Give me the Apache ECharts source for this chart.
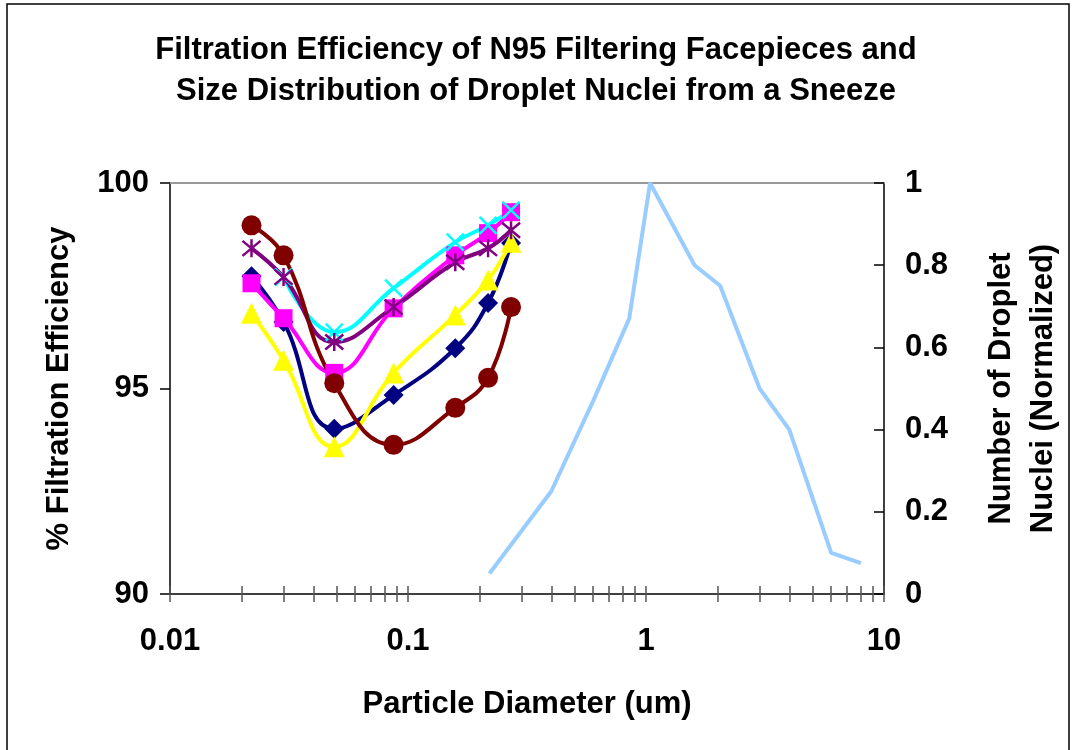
<!DOCTYPE html>
<html>
<head>
<meta charset="utf-8">
<script src="https://cdn.jsdelivr.net/npm/echarts@6/dist/echarts.min.js"></script>
<style>
html,body{margin:0;padding:0;background:#fff;}
#chart{width:1072px;height:750px;}
</style>
</head>
<body>
<div id="chart"></div>
<script>
// Particle diameters (um) for filtration-efficiency measurements
const sizesUm = [0.022, 0.03, 0.049, 0.087, 0.158, 0.217, 0.271];
// % filtration efficiency for six N95 filtering facepieces
const eff1 = [97.73, 96.62, 94.02, 94.84, 95.98, 97.08, 98.54];   // navy diamonds
const eff2 = [97.56, 96.71, 95.38, 96.95, 98.24, 98.78, 99.29];   // magenta squares
const eff3 = [96.83, 95.69, 93.58, 95.38, 96.79, 97.64, 98.56];   // yellow triangles
const eff4 = [null, 97.71, 96.37, 97.44, 98.56, 98.97, 99.34];    // cyan crosses
const eff5 = [98.41, 97.71, 96.13, 96.98, 98.07, 98.41, 98.85];   // purple stars
const eff6 = [98.97, 98.24, 95.13, 93.63, 94.53, 95.26, 96.98];   // maroon circles
// Droplet nuclei size distribution from a sneeze (normalized)
const nucleiSizes = [0.22, 0.4, 0.6, 0.85, 1.04, 1.6, 2.05, 3, 4, 6, 8];
const nucleiCount = [0.05, 0.25, 0.47, 0.67, 1.0, 0.8, 0.75, 0.5, 0.4, 0.1, 0.075];
// Axis ticks / labels
const xTickValues = [0.01,0.02,0.03,0.04,0.05,0.06,0.07,0.08,0.09,0.1,0.2,0.3,0.4,0.5,0.6,0.7,0.8,0.9,1,2,3,4,5,6,7,8,9,10];
const xLabelValues = [0.01, 0.1, 1, 10];

const FONT = '"Liberation Sans", Arial, sans-serif';
const FS = 31;

function pairs(xs, ys) {
  const out = [];
  for (let i = 0; i < xs.length; i++) if (ys[i] != null) out.push([xs[i], ys[i]]);
  return out;
}

const X_PATH = 'path://M0,0L10,10M10,0L0,10';
const STAR_PATH = 'path://M0,0L10,10M10,0L0,10M5,-1L5,11';

function effSeries(name, data, color, symbol, size, strokeSym) {
  return {
    name: name, type: 'line', xAxisIndex: 0, yAxisIndex: 0,
    data: pairs(sizesUm, data), smooth: 0.45,
    symbol: symbol, symbolSize: size,
    lineStyle: {color: color, width: 4},
    itemStyle: strokeSym ? {color: color, borderColor: color, borderWidth: 2.5} : {color: color, borderWidth: 0},
    emphasis: {disabled: true}, animation: false
  };
}

const chart = echarts.init(document.getElementById('chart'));
chart.setOption({
  backgroundColor: '#fff',
  animation: false,
  title: {
    text: 'Filtration Efficiency of N95 Filtering Facepieces and\nSize Distribution of Droplet Nuclei from a Sneeze',
    left: 'center', top: 25,
    textStyle: {fontFamily: FONT, fontSize: FS, fontWeight: 'bold', color: '#000', lineHeight: 41}
  },
  graphic: [{
    type: 'rect', shape: {x: 7, y: 4, width: 1062, height: 780},
    style: {fill: 'none', stroke: '#000', lineWidth: 1.5}, silent: true
  }],
  grid: {left: 170, right: 186, top: 183, bottom: 156, containLabel: false},
  xAxis: [
    {
      type: 'log', logBase: 10, min: 0.01, max: 10, position: 'bottom',
      axisLine: {show: true, lineStyle: {color: '#000', width: 1.5}},
      axisTick: {show: true, inside: false, length: 8, customValues: xTickValues, lineStyle: {color: '#555', width: 1.5}},
      axisLabel: {customValues: xLabelValues, margin: 32, fontFamily: FONT, fontSize: FS, fontWeight: 'bold', color: '#000',
        formatter: function (v) { return String(+v.toPrecision(3)); }},
      splitLine: {show: false},
      name: 'Particle Diameter (um)', nameLocation: 'middle', nameGap: 95,
      nameTextStyle: {fontFamily: FONT, fontSize: FS, fontWeight: 'bold', color: '#000'}
    },
    {
      type: 'log', logBase: 10, min: 0.01, max: 10, position: 'bottom',
      axisLine: {show: false},
      axisTick: {show: true, inside: true, length: 8, customValues: xTickValues, lineStyle: {color: '#555', width: 1.5}},
      axisLabel: {show: false}, splitLine: {show: false}
    },
    {
      type: 'log', logBase: 10, min: 0.01, max: 10, position: 'top',
      axisLine: {show: true, lineStyle: {color: '#999', width: 2}},
      axisTick: {show: false}, axisLabel: {show: false}, splitLine: {show: false}
    }
  ],
  yAxis: [
    {
      type: 'value', min: 90, max: 100, interval: 5, position: 'left',
      axisLine: {show: true, lineStyle: {color: '#000', width: 1.5}},
      axisTick: {show: true, inside: false, length: 10, lineStyle: {color: '#000', width: 1.5}},
      axisLabel: {margin: 21, fontFamily: FONT, fontSize: FS, fontWeight: 'bold', color: '#000'},
      splitLine: {show: false},
      name: '% Filtration Efficiency', nameLocation: 'middle', nameGap: 95, nameRotate: 90,
      nameTextStyle: {fontFamily: FONT, fontSize: FS, fontWeight: 'bold', color: '#000'}
    },
    {
      type: 'value', min: 0, max: 1, interval: 0.2, position: 'right',
      axisLine: {show: true, lineStyle: {color: '#000', width: 1.5}},
      axisTick: {show: true, inside: true, length: 10, lineStyle: {color: '#000', width: 1.5}},
      axisLabel: {margin: 21, fontFamily: FONT, fontSize: FS, fontWeight: 'bold', color: '#000',
        formatter: function (v) { return String(+v.toFixed(1)); }},
      splitLine: {show: false},
      name: 'Number of Droplet\nNuclei (Normalized)', nameLocation: 'middle', nameGap: 96, nameRotate: 90,
      nameTextStyle: {fontFamily: FONT, fontSize: FS, fontWeight: 'bold', color: '#000', lineHeight: 42}
    }
  ],
  series: [
    effSeries('Respirator 1', eff1, '#000080', 'diamond', 20, false),
    effSeries('Respirator 2', eff2, '#FF00FF', 'rect', 18, false),
    effSeries('Respirator 3', eff3, '#FFFF00', 'triangle', 21, false),
    effSeries('Respirator 4', eff4, '#00FFFF', X_PATH, 17, true),
    effSeries('Respirator 5', eff5, '#800080', STAR_PATH, 18, true),
    effSeries('Respirator 6', eff6, '#800000', 'circle', 20, false),
    {
      name: 'Droplet nuclei', type: 'line', xAxisIndex: 0, yAxisIndex: 1,
      data: pairs(nucleiSizes, nucleiCount), smooth: false, symbol: 'none',
      lineStyle: {color: '#99CCFF', width: 4},
      emphasis: {disabled: true}, animation: false
    }
  ]
});
</script>
</body>
</html>
